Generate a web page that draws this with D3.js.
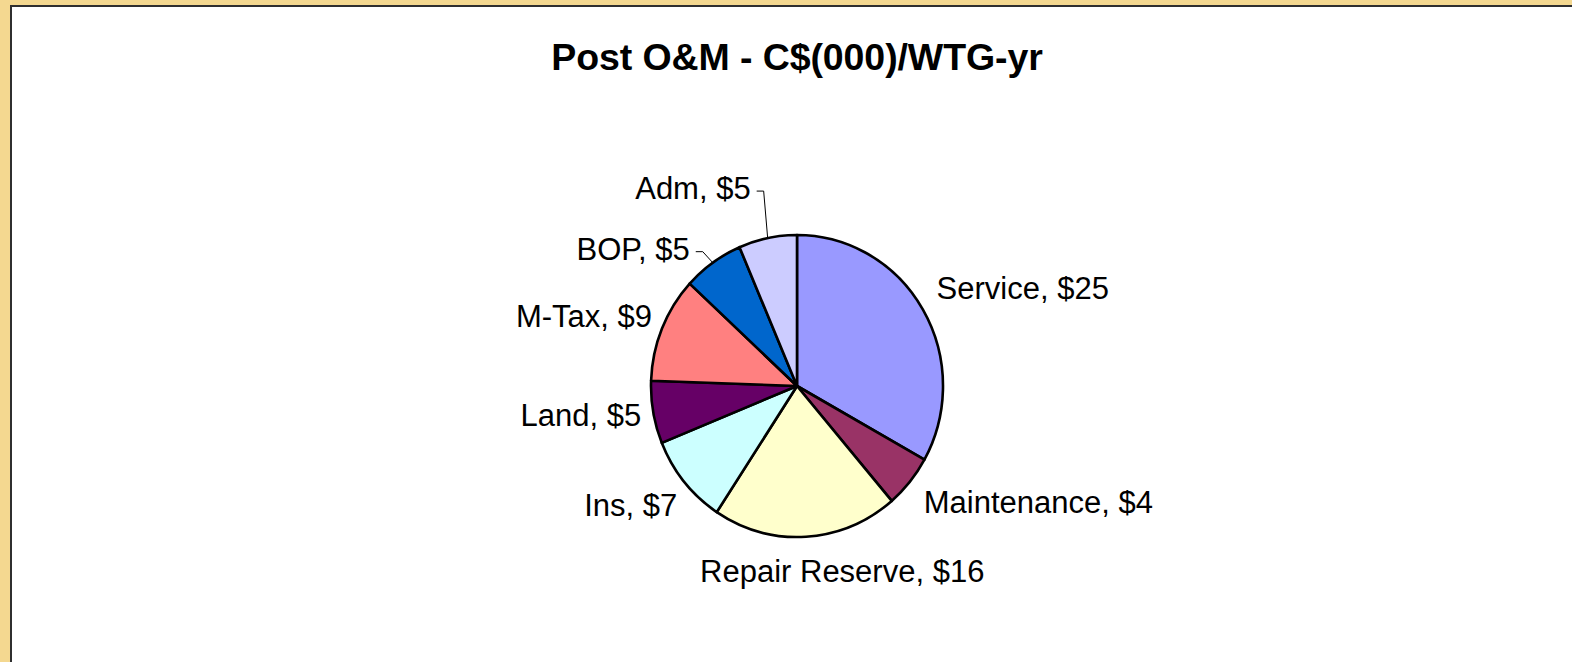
<!DOCTYPE html>
<html>
<head>
<meta charset="utf-8">
<script src="https://cdn.jsdelivr.net/npm/d3@7"></script>
<style>
  html, body { margin: 0; padding: 0; background: #F4D890; }
  svg { display: block; }
  text { font-family: "Liberation Sans", Arial, sans-serif; fill: #000; }
</style>
</head>
<body>
<svg id="chart" width="1572" height="662"></svg>
<script>
// Data
var categories = ["Service", "Maintenance", "Repair Reserve", "Ins", "Land", "M-Tax", "BOP", "Adm"];
var values = [25.2, 4.3, 15.6, 7.3, 5.1, 8.6, 5.1, 4.9];
var colors = ["#9999FF", "#993366", "#FFFFCC", "#CCFFFF", "#660066", "#FF8080", "#0066CC", "#CCCCFF"];
var leaderCats = ["BOP", "Adm"];

var svg = d3.select("#chart"),
    width = +svg.attr("width"),
    height = +svg.attr("height");

// frame: yellow margin, dark edge, white plot area
svg.append("rect").attr("x", 10).attr("y", 5).attr("width", width - 10).attr("height", height - 5).attr("fill", "#2f2f2f");
svg.append("rect").attr("x", 12).attr("y", 7).attr("width", width - 12).attr("height", height - 7).attr("fill", "#ffffff");

svg.append("text")
    .attr("x", 797)
    .attr("y", 70)
    .attr("text-anchor", "middle")
    .style("font-size", "37.5px")
    .style("font-weight", "bold")
    .style("letter-spacing", "-0.1px")
    .text("Post O&M - C$(000)/WTG-yr");

// Pie (slightly taller than wide, as in the original)
var cx = 797, cy = 386, r = 151, sx = 146 / 151;

var pie = d3.pie().sort(null).value(function (d, i) { return values[i]; });
var arcs = pie(categories);
var arc = d3.arc().innerRadius(0).outerRadius(r);

var g = svg.append("g")
    .attr("transform", "translate(" + cx + "," + cy + ") scale(" + sx + ",1)");

g.selectAll("path")
    .data(arcs)
    .enter()
    .append("path")
    .attr("d", arc)
    .attr("fill", function (d, i) { return colors[i]; })
    .attr("stroke", "#000")
    .attr("stroke-width", 2.6)
    .attr("vector-effect", "non-scaling-stroke")
    .attr("stroke-linejoin", "round");

// Labels
var fmt = function (v) { return "$" + Math.round(v); };
var nudge = { "Service": [-3, -3], "Maintenance": [-1, 4], "Repair Reserve": [35, 7], "Ins": [8, 7], "Land": [7, 0], "M-Tax": [8, 2] };

function edgePoint(a, rad) {
    return [cx + Math.sin(a) * rad * sx, cy - Math.cos(a) * rad];
}

var labels = svg.append("g").style("font-size", "31px");

arcs.forEach(function (d, i) {
    var name = categories[i];
    var mid = (d.startAngle + d.endAngle) / 2;
    var txt = name + ", " + fmt(values[i]);

    if (leaderCats.indexOf(name) >= 0) {
        // outside label with a thin leader line to the slice
        var e = edgePoint(mid, r);
        var lx = e[0] - (name === "Adm" ? 4 : 10);
        var ly = e[1] - (name === "Adm" ? 47 : 11);
        labels.append("path")
            .attr("d", "M" + e[0] + "," + e[1] + "L" + lx + "," + ly + "L" + (lx - 7) + "," + ly)
            .attr("fill", "none")
            .attr("stroke", "#000")
            .attr("stroke-width", 1);
        labels.append("text")
            .attr("x", lx - 13)
            .attr("y", ly + 8)
            .attr("text-anchor", "end")
            .text(txt);
        return;
    }

    var p = edgePoint(mid, r + 20);
    var s = Math.sin(mid), c = Math.cos(mid);
    var anchor = s > 0.3 ? "start" : (s < -0.3 ? "end" : "middle");
    var n = nudge[name] || [0, 0];
    labels.append("text")
        .attr("x", p[0] + n[0])
        .attr("y", p[1] - c * 10 + 8 + n[1])
        .attr("text-anchor", anchor)
        .text(txt);
});
</script>
</body>
</html>
